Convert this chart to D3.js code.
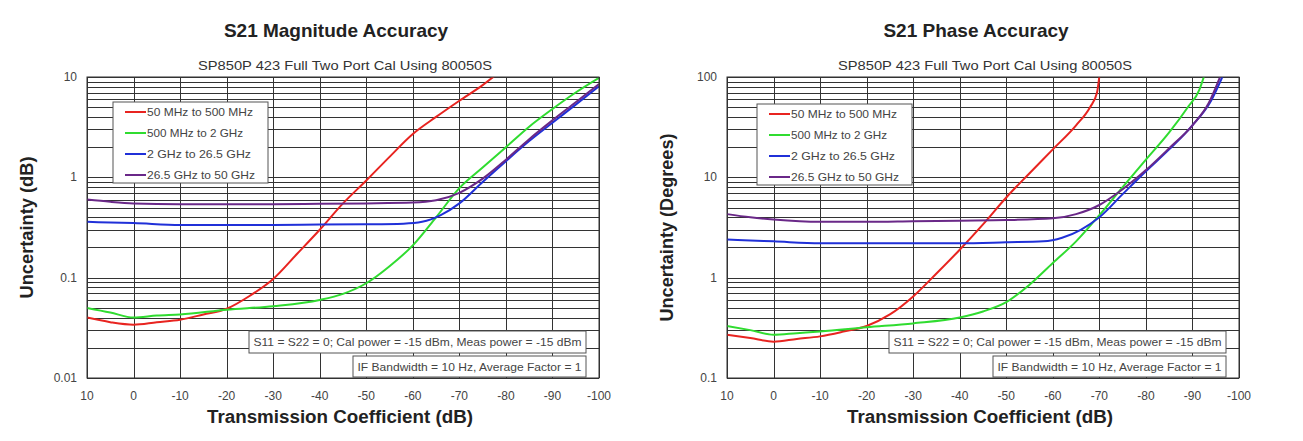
<!DOCTYPE html>
<html>
<head>
<meta charset="utf-8">
<script src="https://cdn.jsdelivr.net/npm/d3@7"></script>
<style>
  body { margin: 0; background: #fff; }
  svg { display: block; font-family: "Liberation Sans", Arial, sans-serif; }
  .grid line { stroke: #333; stroke-width: 1; shape-rendering: crispEdges; }
  .tick-label { font-size: 12px; fill: #444; }
</style>
</head>
<body>
<div id="chart"></div>
<script>
var svgWidth = 1303;
var svgHeight = 441;

// x axis: transmission coefficient (dB)
var xTicks = [10, 0, -10, -20, -30, -40, -50, -60, -70, -80, -90, -100];
var seriesNames = ["50 MHz to 500 MHz", "500 MHz to 2 GHz", "2 GHz to 26.5 GHz", "26.5 GHz to 50 GHz"];
var seriesColors = ["#e82420", "#30dc30", "#2030d8", "#6a2888"];

// magnitude uncertainty (dB), [dB, value]
var magRed = [[10, 0.040], [5, 0.036], [0, 0.034], [-5, 0.036], [-10, 0.038], [-15, 0.043], [-20, 0.049],
  [-25, 0.066], [-30, 0.097], [-35, 0.17], [-40, 0.30], [-45, 0.55], [-50, 0.93], [-55, 1.6],
  [-60, 2.7], [-65, 4.0], [-70, 5.8], [-75, 8.3], [-77.5, 10.2]];
var magGreen = [[10, 0.050], [5, 0.045], [0, 0.040], [-5, 0.042], [-10, 0.043], [-20, 0.048], [-30, 0.052],
  [-40, 0.060], [-45, 0.069], [-50, 0.088], [-55, 0.13], [-60, 0.21], [-65, 0.40], [-70, 0.78],
  [-75, 1.25], [-80, 2.0], [-85, 3.2], [-90, 4.8], [-95, 7.0], [-100, 9.8]];
var magBlue = [[10, 0.36], [5, 0.355], [0, 0.35], [-10, 0.335], [-20, 0.335], [-30, 0.335], [-40, 0.338],
  [-50, 0.34], [-58, 0.345], [-62, 0.36], [-66, 0.42], [-70, 0.55], [-75, 0.90], [-80, 1.45],
  [-85, 2.3], [-90, 3.5], [-95, 5.3], [-100, 8.1]];
var magPurple = [[10, 0.60], [5, 0.57], [0, 0.55], [-10, 0.54], [-20, 0.54], [-30, 0.54], [-40, 0.545],
  [-50, 0.55], [-60, 0.56], [-65, 0.59], [-70, 0.70], [-75, 0.97], [-80, 1.5], [-85, 2.4],
  [-90, 3.7], [-95, 5.6], [-100, 8.5]];

// phase uncertainty (degrees), [dB, value]
var phRed = [[10, 0.27], [5, 0.25], [0, 0.23], [-5, 0.245], [-10, 0.26], [-15, 0.29], [-20, 0.33],
  [-25, 0.43], [-30, 0.65], [-35, 1.1], [-40, 1.9], [-45, 3.4], [-50, 6.3], [-55, 11],
  [-60, 19], [-65, 33], [-68, 50], [-69.5, 70], [-70, 102]];
var phGreen = [[10, 0.33], [5, 0.30], [0, 0.27], [-5, 0.28], [-10, 0.29], [-20, 0.32], [-30, 0.35],
  [-40, 0.40], [-45, 0.46], [-50, 0.57], [-55, 0.85], [-60, 1.4], [-65, 2.3], [-70, 4.2],
  [-75, 8], [-80, 15], [-85, 28], [-89, 50], [-91.5, 75], [-92.5, 102]];
var phBlue = [[10, 2.4], [5, 2.35], [0, 2.3], [-10, 2.2], [-20, 2.2], [-30, 2.2], [-40, 2.2],
  [-50, 2.25], [-58, 2.3], [-62, 2.5], [-66, 3.0], [-70, 4.0], [-75, 6.8], [-80, 11.5],
  [-85, 19], [-90, 33], [-94, 58], [-96.5, 102]];
var phPurple = [[10, 4.3], [5, 4.0], [0, 3.8], [-10, 3.6], [-20, 3.6], [-30, 3.65], [-40, 3.7],
  [-50, 3.75], [-60, 3.9], [-65, 4.3], [-70, 5.3], [-75, 7.6], [-80, 11.8], [-85, 19.5],
  [-90, 33], [-93.5, 55], [-96, 102]];

var panels = [
  {
    left: 87, title: "S21 Magnitude Accuracy", yLabel: "Uncertainty (dB)", yLabelW: 142,
    yDomain: [0.01, 10], yTicks: [0.01, 0.1, 1, 10], yTickText: ["0.01", "0.1", "1", "10"],
    series: [magRed, magGreen, magBlue, magPurple], legendDx: 26, legendDy: 25
  },
  {
    left: 727, title: "S21 Phase Accuracy", yLabel: "Uncertainty (Degrees)", yLabelW: 188,
    yDomain: [0.1, 100], yTicks: [0.1, 1, 10, 100], yTickText: ["0.1", "1", "10", "100"],
    series: [phRed, phGreen, phBlue, phPurple], legendDx: 30, legendDy: 27
  }
];

var subtitle = "SP850P 423 Full Two Port Cal Using 80050S";
var note1 = "S11 = S22 = 0; Cal power = -15 dBm, Meas power = -15 dBm";
var note2 = "IF Bandwidth = 10 Hz, Average Factor = 1";

var plotW = 512;
var plotTop = 77;
var plotH = 301;

var svg = d3.select("#chart")
  .append("svg")
  .attr("width", svgWidth)
  .attr("height", svgHeight);

svg.append("rect").attr("width", svgWidth).attr("height", svgHeight).attr("fill", "#fff");

panels.forEach(function(p, pi) {
  var g = svg.append("g")
    .attr("transform", `translate(${p.left}, ${plotTop})`);

  var xScale = d3.scaleLinear().domain([10, -100]).range([0, plotW]);
  var yScale = d3.scaleLog().domain(p.yDomain).range([plotH, 0]);
  var cx = p.left + plotW / 2;

  // titles
  svg.append("text")
    .attr("x", cx - 7).attr("y", 37)
    .attr("text-anchor", "middle")
    .style("font-size", "19px").style("font-weight", "bold").style("fill", "#222")
    .text(p.title);
  svg.append("text")
    .attr("x", cx + 2).attr("y", 70)
    .attr("text-anchor", "middle")
    .attr("textLength", 294).attr("lengthAdjust", "spacingAndGlyphs")
    .style("font-size", "13px").style("fill", "#333")
    .text(subtitle);

  // grid: log minor lines + vertical lines each 10 dB
  var minor = [];
  for (var dec = p.yDomain[0]; dec < p.yDomain[1] * 0.99; dec *= 10) {
    for (var k = 1; k <= 10; k++) minor.push(dec * k);
  }
  var grid = g.append("g").attr("class", "grid");
  grid.selectAll(".h").data(minor).enter().append("line")
    .attr("x1", 0).attr("x2", plotW)
    .attr("y1", d => Math.round(yScale(d)) + 0.5).attr("y2", d => Math.round(yScale(d)) + 0.5);
  grid.selectAll(".v").data(xTicks).enter().append("line")
    .attr("y1", 0).attr("y2", plotH)
    .attr("x1", d => Math.round(xScale(d)) + 0.5).attr("x2", d => Math.round(xScale(d)) + 0.5);

  // axis tick labels
  g.selectAll(".xt").data(xTicks).enter().append("text")
    .attr("class", "tick-label")
    .attr("x", d => xScale(d)).attr("y", plotH + 22)
    .attr("text-anchor", "middle")
    .text(d => d);
  g.selectAll(".yt").data(p.yTicks).enter().append("text")
    .attr("class", "tick-label")
    .attr("x", -10).attr("y", d => yScale(d) + 4)
    .attr("text-anchor", "end")
    .text((d, i) => p.yTickText[i]);

  // axis titles
  svg.append("text")
    .attr("x", cx - 3).attr("y", 423)
    .attr("text-anchor", "middle")
    .attr("textLength", 266).attr("lengthAdjust", "spacingAndGlyphs")
    .style("font-size", "18px").style("font-weight", "bold").style("fill", "#222")
    .text("Transmission Coefficient (dB)");
  svg.append("text")
    .attr("transform", `translate(${p.left - 54}, ${plotTop + plotH / 2}) rotate(-90)`)
    .attr("text-anchor", "middle")
    .attr("textLength", p.yLabelW).attr("lengthAdjust", "spacingAndGlyphs")
    .style("font-size", "19px").style("font-weight", "bold").style("fill", "#222")
    .text(p.yLabel);

  // curves
  svg.append("clipPath").attr("id", "clip" + pi)
    .append("rect").attr("width", plotW).attr("height", plotH);

  var line = d3.line()
    .x(d => xScale(d[0]))
    .y(d => yScale(d[1]))
    .curve(d3.curveMonotoneX);

  g.append("g").attr("clip-path", `url(#clip${pi})`)
    .selectAll("path").data(p.series).enter().append("path")
    .attr("d", line)
    .attr("fill", "none")
    .attr("stroke", (d, i) => seriesColors[i])
    .attr("stroke-width", 2);

  // legend
  var lg = g.append("g").attr("transform", `translate(${p.legendDx}, ${p.legendDy})`);
  lg.append("rect").attr("width", 155).attr("height", 81)
    .attr("fill", "#fff").attr("stroke", "#555").attr("stroke-width", 1);
  var items = lg.selectAll(".item").data(seriesNames).enter().append("g")
    .attr("transform", (d, i) => `translate(0, ${10 + i * 21})`);
  items.append("line")
    .attr("x1", 12).attr("x2", 33)
    .attr("stroke", (d, i) => seriesColors[i]).attr("stroke-width", 2);
  items.append("text")
    .attr("x", 34).attr("y", 4)
    .attr("textLength", (d, i) => [106, 96, 104, 108][i]).attr("lengthAdjust", "spacingAndGlyphs")
    .style("font-size", "11.5px").style("fill", "#444")
    .text(d => d);

  // note boxes
  [[note1, 337, 22, 254, 328], [note2, 233, 21, 279, 224]].forEach(function(n) {
    var bx = plotW - 13 - n[1];
    var by = n[3];
    g.append("rect").attr("x", bx).attr("y", by).attr("width", n[1]).attr("height", n[2])
      .attr("fill", "#fff").attr("stroke", "#555").attr("stroke-width", 1);
    g.append("text")
      .attr("x", bx + n[1] / 2).attr("y", by + n[2] / 2 + 4)
      .attr("text-anchor", "middle")
      .attr("textLength", n[4]).attr("lengthAdjust", "spacingAndGlyphs")
      .style("font-size", "11.5px").style("fill", "#444")
      .text(n[0]);
  });

  // plot frame
  g.append("rect").attr("width", plotW).attr("height", plotH)
    .attr("fill", "none").attr("stroke", "#333").attr("stroke-width", 1);
});
</script>
</body>
</html>
